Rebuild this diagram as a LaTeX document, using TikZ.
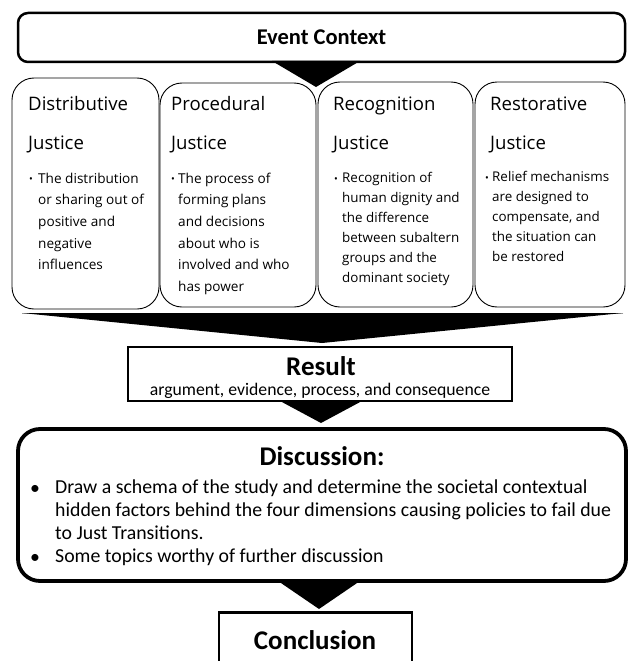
\documentclass[tikz,border=0pt]{standalone}
\usepackage{fontspec}
\setmainfont{Carlito}
\newfontfamily\segoe{Open Sans}
\begin{document}
\begin{tikzpicture}[x=1pt,y=-1pt,
  jbox/.style={draw=black, line width=0.9pt, rounded corners=22pt, inner sep=0pt},
  jhead/.style={anchor=base west, inner sep=0pt, font=\segoe\fontsize{18.6}{22}\selectfont},
  jtext/.style={anchor=north west, inner sep=0pt, align=left, font=\segoe\fontsize{13.6}{21.7}\selectfont},
  jtextb/.style={anchor=north west, inner sep=0pt, align=left, font=\segoe\fontsize{13.4}{20}\selectfont},
  jbul/.style={anchor=base west, inner sep=0pt, font=\segoe\fontsize{10}{12}\selectfont},
  tri/.style={fill=black, draw=none},
  dtext/.style={anchor=north west, inner sep=0pt, align=left, font=\fontsize{19.8}{23}\selectfont},
  dbul/.style={anchor=base, inner sep=0pt, font=\fontsize{19.8}{23}\selectfont},
]
\useasboundingbox (0,0) rectangle (629,661);
% Event context
\node (event) [draw, line width=2.5pt, rounded corners=10pt, minimum width=607pt, minimum height=49pt,
  font=\bfseries\fontsize{22.5}{26}\selectfont] at (321.5,37.5) {Event Context};
% Justice boxes
\node (b1) [jbox, minimum width=147pt, minimum height=231pt] at (85.5,193.5) {};
\node (b2) [jbox, minimum width=156pt, minimum height=224pt] at (238,195) {};
\node (b3) [jbox, minimum width=155pt, minimum height=225pt] at (395.5,194.5) {};
\node (b4) [jbox, minimum width=150pt, minimum height=225pt] at (550,194.5) {};
% top triangle
\coordinate (t1a) at (272,61);
\coordinate (t1b) at (360,61);
\coordinate (t1c) at (316,87);
\fill[tri] (t1a) -- (t1b) -- (t1c) -- cycle;
% headings
\node (h1a) [jhead] at (28,110) {Distributive};
\node (h1b) [jhead] at (28,149) {Justice};
\node (h2a) [jhead] at (171,110) {Procedural};
\node (h2b) [jhead] at (171,149) {Justice};
\node (h3a) [jhead] at (333,110) {Recognition};
\node (h3b) [jhead] at (333,149) {Justice};
\node (h4a) [jhead] at (490,110) {Restorative};
\node (h4b) [jhead] at (490,149) {Justice};
% bullets
\node (u1) [jbul] at (29,182) {\textbullet};
\node (p1) [jtext] at (38,172.5) {The distribution\\or sharing out of\\positive and\\negative\\influences};
\node (u2) [jbul] at (171,182) {\textbullet};
\node (p2) [jtext] at (178,172.5) {The process of\\forming plans\\and decisions\\about who is\\involved and who\\has power};
\node (u3) [jbul] at (334,182) {\textbullet};
\node (p3) [jtextb] at (342,172.5) {Recognition of\\human dignity and\\the difference\\between subaltern\\groups and the\\dominant society};
\node (u4) [jbul] at (485,181) {\textbullet};
\node (p4) [jtextb] at (492,171.5) {Relief mechanisms\\are designed to\\compensate, and\\the situation can\\be restored};
% big converging triangle
\coordinate (t2a) at (22,313);
\coordinate (t2b) at (623,313);
\coordinate (t2c) at (322,343);
\draw[gray!60, line width=0.6pt] (t2a) -- (t2b);
\fill[tri] (t2a) -- (t2b) -- (t2c) -- cycle;
% Result
\node (res) [draw, line width=2.8pt, minimum width=384pt, minimum height=54pt] at (320,374) {};
\node (rest) [inner sep=0pt, font=\bfseries\fontsize{27}{30}\selectfont] at (321,366) {Result};
\node (ress) [inner sep=0pt, font=\fontsize{17.7}{20}\selectfont] at (320,391) {argument, evidence, process, and consequence};
\coordinate (t3a) at (280,401);
\coordinate (t3b) at (362,401);
\coordinate (t3c) at (321,423);
\fill[tri] (t3a) -- (t3b) -- (t3c) -- cycle;
% Discussion
\node (dis) [draw, line width=3.8pt, rounded corners=22pt, minimum width=608pt, minimum height=152pt] at (322,505) {};
\node (dist) [inner sep=0pt, font=\bfseries\fontsize{27}{30}\selectfont] at (322,456) {Discussion:};
\node (db1) [dbul] at (35,494) {•};
\node (dt1) [dtext] at (55,479.5) {Draw a schema of the study and determine the societal contextual\\hidden factors behind the four dimensions causing policies to fail due\\to Just Transitions.};
\node (db2) [dbul] at (35,563) {•};
\node (dt2) [dtext] at (55,548.5) {Some topics worthy of further discussion};
\coordinate (t4a) at (278,581);
\coordinate (t4b) at (360,581);
\coordinate (t4c) at (319,609);
\fill[tri] (t4a) -- (t4b) -- (t4c) -- cycle;
% Conclusion
\node (con) [draw, line width=2.8pt, minimum width=193pt, minimum height=80pt, anchor=north] at (315.5,611) {};
\node (cont) [inner sep=0pt, font=\bfseries\fontsize{27}{30}\selectfont] at (315,640) {Conclusion};
\end{tikzpicture}
\end{document}
